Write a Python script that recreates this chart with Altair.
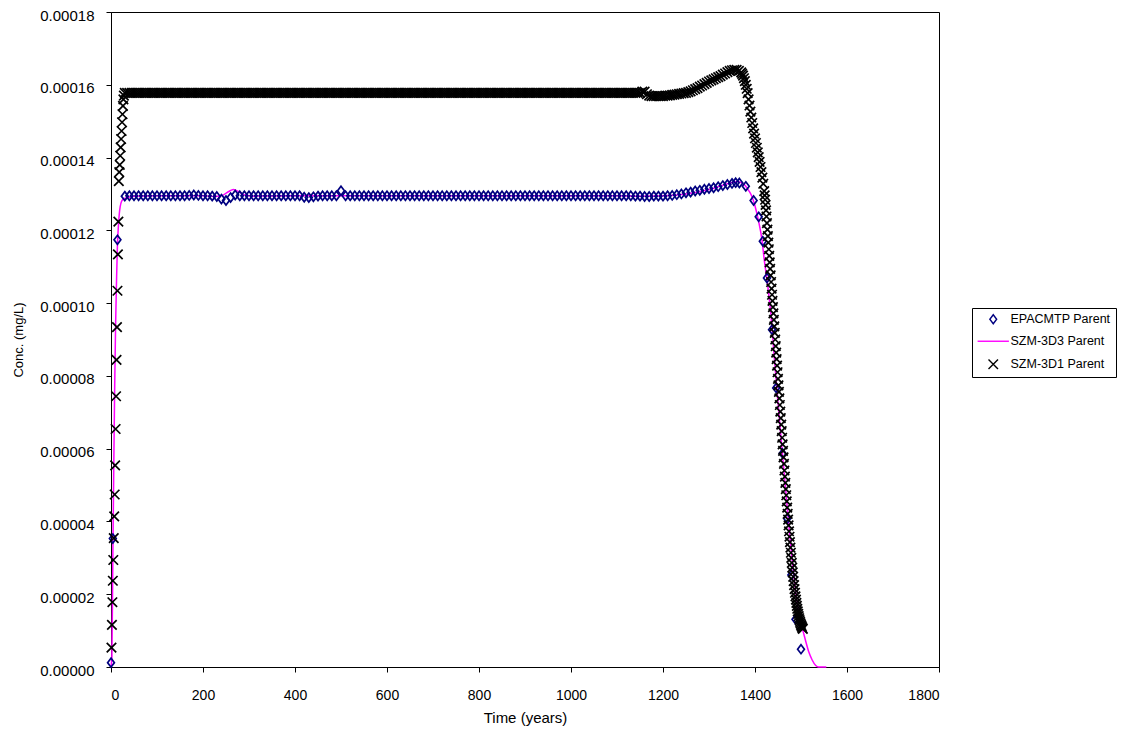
import altair as alt
import pandas as pd

NAMES = ["EPACMTP Parent", "SZM-3D3 Parent", "SZM-3D1 Parent"]

# ---- EPACMTP Parent (diamonds); concentration in 1e-6 mg/L ----
epa_t = [0, 4, 14] + list(range(30, 1360, 10)) + [
    1358, 1366, 1380, 1397, 1408, 1417, 1426, 1437, 1446, 1460, 1470, 1479, 1488, 1500]
epa_v = [1.2, 35.3, 117.4] + [
    129.4, 129.5, 129.5, 129.5, 129.5, 129.5, 129.5, 129.5, 129.5, 129.5,
    129.5, 129.5, 129.5, 129.5, 129.6, 129.7, 129.6, 129.5, 129.5, 129.4,
    129.3, 128.6, 128.2, 129.0, 129.7, 129.5, 129.5, 129.5, 129.5, 129.5,
    129.5, 129.5, 129.5, 129.5, 129.5, 129.5, 129.5, 129.5, 129.5, 129.1,
    129.0, 129.2, 129.4, 129.5, 129.5, 129.5, 129.5, 130.9, 129.5, 129.5,
    129.5, 129.5, 129.5, 129.5, 129.5, 129.5, 129.5, 129.5, 129.5, 129.5,
    129.5, 129.5, 129.5, 129.5, 129.5, 129.5, 129.5, 129.5, 129.5, 129.5,
    129.5, 129.5, 129.5, 129.5, 129.5, 129.5, 129.5, 129.5, 129.5, 129.5,
    129.5, 129.5, 129.5, 129.5, 129.5, 129.5, 129.5, 129.5, 129.5, 129.5,
    129.5, 129.5, 129.5, 129.5, 129.5, 129.5, 129.5, 129.5, 129.5, 129.5,
    129.5, 129.5, 129.5, 129.5, 129.5, 129.5, 129.5, 129.5, 129.5, 129.5,
    129.5, 129.4, 129.4, 129.3, 129.3, 129.4, 129.4, 129.4, 129.5, 129.6,
    129.8, 130.0, 130.3, 130.5, 130.8, 131.0, 131.3, 131.5, 131.7, 132.0,
    132.3, 132.6, 132.9] + [
    133.1, 133.0, 132.1, 128.2, 123.7, 117.0, 106.9, 92.7, 76.7, 58.7, 40.8, 25.3, 13.1, 4.9]

# ---- SZM-3D3 Parent (magenta line) ----
d3_t = [0, 2, 4, 6, 8, 10, 12, 14, 16, 18,
        20, 23, 27, 35, 50, 100, 200, 225, 240, 255,
        266, 278, 290, 310, 400, 600, 800, 1000, 1100, 1150,
        1200, 1250, 1280, 1300, 1320, 1340, 1355, 1362, 1370, 1378,
        1386, 1393, 1400, 1408, 1415, 1420, 1428, 1435, 1442, 1450,
        1460, 1470, 1480, 1490, 1500, 1505, 1510, 1517, 1524, 1532,
        1538, 1555]
d3_v = [0, 3, 30, 55, 77, 94, 106, 116, 121, 124.5,
        126.5, 128.0, 128.6, 129.0, 129.4, 129.5, 129.5, 129.3, 129.5, 130.6,
        131.2, 130.6, 129.7, 129.4, 129.5, 129.5, 129.5, 129.5, 129.5, 129.4,
        129.5, 130.0, 130.6, 131.2, 132.0, 132.8, 133.3, 133.4, 133.1, 132.4,
        131.0, 129.4, 126.7, 122.4, 117.5, 112.0, 104.5, 96.4, 85.0, 72.6,
        58.0, 44.0, 30.5, 19.0, 12.0, 9.6, 7.2, 4.1, 2.0, 0.4,
        0.0, 0.0]

# ---- SZM-3D1 Parent (x markers) ----
d1_t = (list(range(1, 29)) + list(range(30, 1155, 5)) + list(range(1155, 1375, 5))
        + list(range(1372, 1422, 2)) + list(range(1421, 1505)))
d1_v = [5.3, 11.6, 17.8, 23.7, 29.4, 35.4, 41.4, 47.4, 55.4, 65.4,
        74.4, 84.4, 93.4, 103.4, 113.4, 122.4, 133.5, 136.0, 138.0, 140.5,
        142.8, 145.1, 147.3, 149.7, 151.9, 154.2, 156.0, 157.0] + [
    157.8, 157.8, 157.8, 157.8, 157.8, 157.8, 157.8, 157.8, 157.8, 157.8, 157.8, 157.8, 157.8, 157.8, 157.8,
    157.8, 157.8, 157.8, 157.8, 157.8, 157.8, 157.8, 157.8, 157.8, 157.8, 157.8, 157.8, 157.8, 157.8, 157.8,
    157.8, 157.8, 157.8, 157.8, 157.8, 157.8, 157.8, 157.8, 157.8, 157.8, 157.8, 157.8, 157.8, 157.8, 157.8,
    157.8, 157.8, 157.8, 157.8, 157.8, 157.8, 157.8, 157.8, 157.8, 157.8, 157.8, 157.8, 157.8, 157.8, 157.8,
    157.8, 157.8, 157.8, 157.8, 157.8, 157.8, 157.8, 157.8, 157.8, 157.8, 157.8, 157.8, 157.8, 157.8, 157.8,
    157.8, 157.8, 157.8, 157.8, 157.8, 157.8, 157.8, 157.8, 157.8, 157.8, 157.8, 157.8, 157.8, 157.8, 157.8,
    157.8, 157.8, 157.8, 157.8, 157.8, 157.8, 157.8, 157.8, 157.8, 157.8, 157.8, 157.8, 157.8, 157.8, 157.8,
    157.8, 157.8, 157.8, 157.8, 157.8, 157.8, 157.8, 157.8, 157.8, 157.8, 157.8, 157.8, 157.8, 157.8, 157.8,
    157.8, 157.8, 157.8, 157.8, 157.8, 157.8, 157.8, 157.8, 157.8, 157.8, 157.8, 157.8, 157.8, 157.8, 157.8,
    157.8, 157.8, 157.8, 157.8, 157.8, 157.8, 157.8, 157.8, 157.8, 157.8, 157.8, 157.8, 157.8, 157.8, 157.8,
    157.8, 157.8, 157.8, 157.8, 157.8, 157.8, 157.8, 157.8, 157.8, 157.8, 157.8, 157.8, 157.8, 157.8, 157.8,
    157.8, 157.8, 157.8, 157.8, 157.8, 157.8, 157.8, 157.8, 157.8, 157.8, 157.8, 157.8, 157.8, 157.8, 157.8,
    157.8, 157.8, 157.8, 157.8, 157.8, 157.8, 157.8, 157.8, 157.8, 157.8, 157.8, 157.8, 157.8, 157.8, 157.8,
    157.8, 157.8, 157.8, 157.8, 157.8, 157.8, 157.8, 157.8, 157.8, 157.8, 157.8, 157.8, 157.8, 157.8, 157.8,
    157.8, 157.8, 157.8, 157.8, 157.8, 157.8, 157.8, 157.8, 157.8, 157.8, 157.8, 157.8, 157.8, 157.8, 157.8] + [
    158.1, 158.1, 157.4, 157.0, 156.9, 156.9, 156.9, 156.9, 156.9, 156.9,
    157.0, 157.0, 157.1, 157.2, 157.3, 157.4, 157.5, 157.6, 157.7, 157.8,
    158.0, 158.2, 158.5, 158.8, 159.1, 159.5, 159.8, 160.2, 160.5, 160.9,
    161.2, 161.5, 161.8, 162.1, 162.4, 162.8, 163.1, 163.5, 163.8, 164.0,
    164.1, 164.1, 163.8, 163.4] + [
    163.0, 162.5, 161.8, 161.0, 160.0, 158.9, 157.7, 156.0, 154.3, 152.6,
    151.0, 149.5, 148.0, 146.6, 145.3, 144.0, 142.7, 141.4, 140.1, 138.8,
    137.4, 136.0, 134.5, 132.8, 130.8] + [
    129.6, 128.4, 127.0, 125.5, 123.8, 122.0, 120.2, 118.4, 116.6, 114.8,
    113.0, 111.2, 109.4, 107.6, 105.8, 104.0, 102.3, 100.6, 98.9, 97.2,
    95.4, 93.6, 91.8, 90.0, 88.2, 86.4, 84.6, 82.8, 81.0, 79.2,
    77.4, 75.6, 73.8, 72.0, 70.2, 68.4, 66.6, 64.8, 63.0, 61.2,
    59.4, 57.6, 55.8, 54.0, 52.3, 50.6, 48.9, 47.2, 45.5, 43.8,
    42.1, 40.5, 38.9, 37.3, 35.8, 34.3, 32.8, 31.4, 30.0, 28.6,
    27.3, 26.0, 24.8, 23.6, 22.5, 21.4, 20.4, 19.4, 18.5, 17.6,
    16.8, 16.0, 15.3, 14.6, 14.0, 13.4, 12.9, 12.4, 12.0, 11.6,
    11.3, 11.0, 10.7, 10.5]

Y_TICKS = [0, 0.00002, 0.00004, 0.00006, 0.00008, 0.0001, 0.00012, 0.00014, 0.00016, 0.00018]
X_TICKS = [0, 200, 400, 600, 800, 1000, 1200, 1400, 1600, 1800]

FONT = "Liberation Sans"

pts = pd.DataFrame({
    "t": epa_t + d1_t,
    "conc": [v * 1e-6 for v in epa_v + d1_v],
    "series": [NAMES[0]] * len(epa_t) + [NAMES[2]] * len(d1_t),
})
lin = pd.DataFrame({"t": d3_t, "conc": [v * 1e-6 for v in d3_v]})

xenc = alt.X("t:Q", scale=alt.Scale(domain=[0, 1800], nice=False),
             axis=alt.Axis(values=X_TICKS, format="d", title="Time (years)", grid=False,
                           tickSize=5, labelPadding=16, labelFontSize=14,
                           titleFontSize=15, titleFontWeight="normal",
                           titleY=50, titleBaseline="middle"))
yenc = alt.Y("conc:Q", scale=alt.Scale(domain=[0, 0.00018], nice=False),
             axis=alt.Axis(values=Y_TICKS, format=".5f", title="Conc. (mg/L)", grid=False,
                           tickSize=5, labelPadding=12, labelFontSize=15, labelOffset=3,
                           titleFontSize=13, titleFontWeight="normal",
                           titleX=-93, titleBaseline="middle"))

line = alt.Chart(lin).mark_line(color="#FF00FF", strokeWidth=1.5, interpolate="monotone").encode(
    x=xenc, y=yenc)

DIAMOND = "M0,-0.95L0.72,0L0,0.95L-0.72,0Z"
XMARK = "M-1,-1L1,1M1,-1L-1,1"
LSEG = "M-3.3,0L3.3,0"

LEG = dict(title=None, orient="none", legendX=861, legendY=296,
           strokeColor="black", fillColor="white", padding=5,
           symbolSize=90, symbolStrokeWidth=1.4, symbolOffset=10,
           labelOffset=11, labelFontSize=12.5, labelFont=FONT,
           rowPadding=8, cornerRadius=0, labelLimit=220)

points = alt.Chart(pts).mark_point(filled=False, size=90, strokeWidth=1.7, opacity=1).encode(
    x=xenc, y=yenc,
    color=alt.Color("series:N",
                    scale=alt.Scale(domain=NAMES, range=["#000080", "#FF00FF", "#000000"]),
                    legend=alt.Legend(**LEG)),
    shape=alt.Shape("series:N", scale=alt.Scale(domain=NAMES, range=[DIAMOND, LSEG, XMARK]),
                    legend=alt.Legend(**LEG)),
)

chart = alt.layer(line, points).properties(
    width=828, height=655,
    autosize=alt.AutoSizeParams(type="none"),
    padding={"left": 103, "top": 4, "right": 178, "bottom": 68},
).configure(font=FONT).configure_view(
    stroke="black", strokeWidth=1
).configure_axis(
    domainColor="black", tickColor="black", labelColor="black", titleColor="black",
    labelFont=FONT, titleFont=FONT
).configure_legend(labelColor="black")

chart.save("out.html", embed_options={"renderer": "svg", "actions": False})
